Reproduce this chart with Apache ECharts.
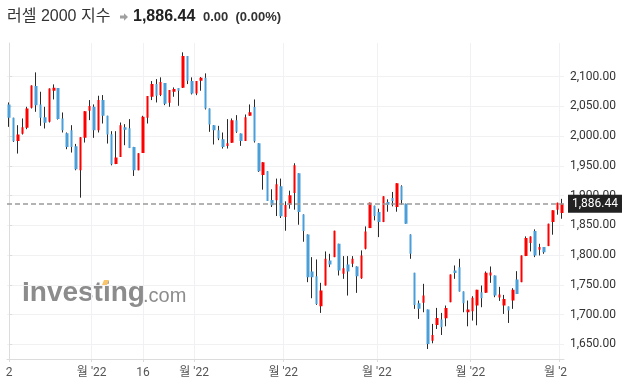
<!DOCTYPE html>
<html>
<head>
<meta charset="utf-8">
<script src="https://cdn.jsdelivr.net/npm/echarts@6/dist/echarts.min.js"></script>
<style>
  html, body { margin: 0; padding: 0; background: #fff; }
  #chart { width: 628px; height: 391px; }
</style>
</head>
<body>
<div id="chart"></div>
<script>
// daily candles, [open, close, low, high]
const candles = [
  [2053.4, 2030.9, 2015.7, 2056.7], [2030.9, 1991.6, 1990.4, 2031.0], [1992.1, 2002.8, 1970.8, 2018.5],
  [2003.9, 2015.2, 2002.8, 2029.8], [2014.0, 2046.6, 2011.8, 2049.4], [2047.8, 2085.4, 2046.6, 2085.4],
  [2084.3, 2052.2, 2041.0, 2107.3], [2053.4, 2030.9, 2017.4, 2074.7], [2032.0, 2022.5, 2012.9, 2049.4],
  [2024.2, 2080.3, 2023.0, 2080.3], [2076.4, 2081.5, 2061.8, 2087.1], [2080.9, 2028.7, 2028.0, 2081.0],
  [2029.8, 2010.1, 2006.2, 2039.9], [2005.0, 1982.0, 1978.1, 2006.2], [2010.1, 1982.0, 1972.5, 2018.5],
  [1983.1, 1944.4, 1942.7, 1987.0], [1942.7, 1998.3, 1896.6, 1998.3], [1997.2, 2042.1, 1989.3, 2042.1],
  [2042.7, 2050.6, 2027.0, 2060.7], [2049.4, 2010.1, 1997.2, 2053.4], [2010.1, 2060.7, 2006.2, 2068.0],
  [2060.7, 2034.3, 2021.3, 2069.1], [2034.3, 2002.8, 1987.6, 2034.3], [2003.4, 1952.8, 1951.0, 2008.4],
  [1953.4, 1964.0, 1953.0, 2008.4], [1965.2, 2018.5, 1965.0, 2023.0], [2015.2, 2010.7, 1984.8, 2020.2],
  [2013.5, 1980.3, 1980.0, 2028.7], [1982.0, 1942.7, 1933.1, 1982.0], [1942.7, 1971.3, 1942.7, 1971.3],
  [1971.9, 2032.6, 1971.9, 2034.3], [2030.9, 2067.4, 2021.3, 2067.4], [2066.3, 2087.6, 2060.7, 2092.7],
  [2087.6, 2068.0, 2056.7, 2096.0], [2069.1, 2091.0, 2067.4, 2098.9], [2089.3, 2054.5, 2052.2, 2089.3],
  [2056.2, 2077.5, 2049.4, 2077.5], [2074.7, 2079.2, 2066.3, 2082.0], [2080.9, 2076.4, 2051.1, 2081.0],
  [2081.5, 2134.8, 2081.0, 2141.0], [2134.8, 2093.3, 2087.6, 2134.8], [2092.7, 2071.9, 2070.2, 2098.9],
  [2071.9, 2092.7, 2069.0, 2092.7], [2093.3, 2098.3, 2076.4, 2099.4], [2098.3, 2046.6, 2044.9, 2105.6],
  [2046.6, 2019.7, 2007.3, 2046.6], [2018.5, 2010.1, 1986.0, 2018.5], [2010.1, 1996.1, 1993.3, 2017.4],
  [1994.9, 1982.0, 1979.2, 2006.2], [1983.7, 1988.2, 1979.2, 2028.7], [1988.8, 2027.0, 1988.8, 2029.8],
  [2027.0, 2007.3, 2005.6, 2035.4], [2004.5, 1992.1, 1983.7, 2004.5], [1992.1, 2032.0, 1992.1, 2036.5],
  [2034.3, 2040.4, 2034.3, 2053.4], [2048.9, 1991.6, 1989.3, 2061.8], [1988.2, 1941.0, 1939.9, 1988.2],
  [1934.8, 1956.2, 1910.1, 1956.2], [1941.0, 1891.0, 1891.0, 1941.0], [1892.7, 1883.7, 1880.9, 1910.7],
  [1892.1, 1919.1, 1865.7, 1928.7], [1915.7, 1865.2, 1862.4, 1928.7], [1864.0, 1884.3, 1841.0, 1890.4],
  [1884.8, 1900.6, 1878.1, 1908.4], [1904.5, 1951.1, 1876.4, 1954.5], [1937.6, 1872.5, 1851.1, 1937.6],
  [1868.5, 1840.4, 1822.5, 1868.5], [1834.8, 1762.9, 1754.5, 1834.8], [1772.5, 1762.9, 1727.5, 1796.6],
  [1764.6, 1718.0, 1716.3, 1792.7], [1714.0, 1740.4, 1702.8, 1753.4], [1748.9, 1793.8, 1748.9, 1806.2],
  [1791.0, 1784.3, 1779.8, 1802.2], [1796.6, 1841.0, 1796.6, 1841.0], [1819.1, 1774.2, 1765.7, 1819.1],
  [1768.5, 1778.1, 1760.1, 1798.3], [1784.3, 1772.5, 1732.0, 1798.3], [1785.4, 1793.8, 1779.8, 1798.3],
  [1780.9, 1764.6, 1736.5, 1781.0], [1761.2, 1799.4, 1760.1, 1807.9], [1810.7, 1839.9, 1809.6, 1848.3],
  [1845.5, 1888.2, 1845.5, 1888.2], [1883.1, 1865.7, 1858.4, 1883.1], [1872.5, 1855.6, 1830.3, 1878.1],
  [1855.6, 1898.9, 1855.6, 1898.9], [1889.3, 1884.8, 1873.0, 1893.8], [1896.1, 1891.0, 1882.0, 1906.2],
  [1880.9, 1920.8, 1873.0, 1920.8], [1915.7, 1892.7, 1884.8, 1917.4], [1886.5, 1852.8, 1852.8, 1886.5],
  [1834.8, 1802.2, 1793.8, 1834.8], [1770.2, 1716.3, 1709.6, 1770.2], [1719.1, 1709.6, 1692.7, 1723.6],
  [1719.7, 1732.0, 1703.9, 1751.7], [1708.4, 1650.6, 1642.1, 1708.4], [1656.2, 1665.7, 1651.7, 1684.3],
  [1682.6, 1694.4, 1675.8, 1711.2], [1691.6, 1678.7, 1665.7, 1702.8], [1693.8, 1711.2, 1680.3, 1715.2],
  [1720.8, 1767.4, 1720.8, 1767.4], [1774.2, 1769.8, 1760.1, 1782.6], [1779.8, 1738.8, 1738.8, 1793.8],
  [1738.8, 1719.1, 1703.9, 1738.8], [1703.9, 1708.4, 1680.3, 1723.6], [1705.6, 1728.1, 1689.9, 1730.9],
  [1715.2, 1741.6, 1682.0, 1741.6], [1737.6, 1727.5, 1712.4, 1748.9], [1736.5, 1770.2, 1736.5, 1772.5],
  [1765.7, 1770.8, 1753.4, 1780.9], [1765.7, 1732.0, 1729.2, 1765.7], [1728.7, 1733.7, 1723.0, 1746.6],
  [1715.2, 1726.4, 1701.1, 1733.1], [1713.5, 1706.7, 1685.9, 1713.5], [1723.6, 1741.6, 1709.6, 1744.4],
  [1759.0, 1734.8, 1734.8, 1773.0], [1754.5, 1799.4, 1754.5, 1799.4], [1798.3, 1828.7, 1798.3, 1831.5],
  [1820.2, 1831.5, 1806.2, 1831.5], [1840.4, 1799.4, 1796.6, 1843.3], [1809.0, 1813.5, 1799.4, 1819.1],
  [1813.5, 1805.0, 1802.2, 1813.5], [1815.2, 1852.8, 1815.2, 1852.8], [1855.6, 1875.3, 1834.3, 1875.3],
  [1876.4, 1888.2, 1868.0, 1888.2], [1870.8, 1886.44, 1861.2, 1894.6]
];
const days = candles.map((c, i) => String(i));

const lastPrice = 1886.44;
const yTicks = [1650, 1700, 1750, 1800, 1850, 1900, 1950, 2000, 2050, 2100];
// x ticks sit on candle index (month ticks fall between two candles)
const xTickPos = [0, 18.5, 30, 41.5, 61.5, 82.5, 103.5, 123.5];
const xTickText = ['2', "월 '22", '16', "월 '22", "월 '22", "월 '22", "월 '22", "월 '2"];

const UP = '#ff0000';
const DOWN = '#4a9fd9';
const WICK = '#2a2a2a';
const GRID = '#f1f1f3';
const AXIS = '#dcdcdc';
const FONT = 'Roboto, "Noto Sans CJK KR", sans-serif';
const TFONT = '"Liberation Sans", "Noto Sans CJK KR", sans-serif';

const chart = echarts.init(document.getElementById('chart'), null, { renderer: 'canvas' });

const option = {
  animation: false,
  grid: { left: 7, right: 64, top: 43, bottom: 32 },
  xAxis: [
    {
      type: 'category',
      data: days,
      boundaryGap: true,
      show: false
    },
    {
      type: 'value',
      position: 'bottom',
      min: -0.5,
      max: days.length - 0.5,
      axisLine: { show: true, lineStyle: { color: AXIS } },
      axisTick: { show: true, length: 3, customValues: xTickPos, lineStyle: { color: AXIS } },
      axisLabel: {
        customValues: xTickPos,
        margin: 8,
        color: '#555',
        fontSize: 12,
        fontFamily: FONT,
        formatter: (v) => {
          const i = xTickPos.indexOf(v);
          // last label is cut by the price scale, nudge it left
          return i === xTickPos.length - 1 ? '{cut|' + xTickText[i] + '}' : xTickText[i];
        },
        rich: {
          cut: { color: '#555', fontSize: 12, fontFamily: FONT, padding: [0, 8, 0, 0] }
        }
      },
      splitLine: { show: true, customValues: xTickPos, lineStyle: { color: GRID } }
    }
  ],
  yAxis: {
    type: 'value',
    position: 'right',
    min: 1625.3,
    max: 2156.7,
    axisLine: { show: true, lineStyle: { color: AXIS } },
    axisTick: { show: true, length: 3, customValues: yTicks, lineStyle: { color: AXIS } },
    axisLabel: {
      customValues: yTicks,
      margin: 6,
      color: '#333',
      fontSize: 12,
      fontFamily: FONT,
      formatter: (v) => v.toLocaleString('en-US', { minimumFractionDigits: 2 })
    },
    splitLine: { show: true, customValues: yTicks, lineStyle: { color: GRID } }
  },
  graphic: [
    {
      type: 'text', x: 7, y: 17, z: 10,
      style: { text: '러셀 2000 지수', fill: '#333', fontSize: 16, fontFamily: TFONT, verticalAlign: 'middle' }
    },
    {
      type: 'polygon', z: 10,
      shape: { points: [[120, 15.5], [124, 15.5], [124, 13.3], [128, 17], [124, 20.7], [124, 18.5], [120, 18.5]] },
      style: { fill: '#a0a0a0' }
    },
    {
      type: 'text', x: 133, y: 17, z: 10,
      style: { text: '1,886.44', fill: '#222', fontSize: 16, fontWeight: 'bold', fontFamily: TFONT, verticalAlign: 'middle' }
    },
    {
      type: 'text', x: 203, y: 17, z: 10,
      style: { text: '0.00  (0.00%)', fill: '#333', fontSize: 13, fontWeight: 'bold', fontFamily: TFONT, verticalAlign: 'middle' }
    },
    // watermark
    {
      type: 'text', x: 22, y: 293, z: 0,
      style: { text: 'Investing', fill: '#8c8c8c', fontSize: 28, fontWeight: 'bold', fontFamily: TFONT, verticalAlign: 'middle' }
    },
    {
      type: 'text', x: 143, y: 296, z: 0,
      style: { text: '.com', fill: '#8c8c8c', fontSize: 20, fontFamily: TFONT, verticalAlign: 'middle' }
    },
    {
      type: 'polygon', z: 1,
      shape: { points: [[104, 280], [109, 280], [107, 285], [102, 285]] },
      style: { fill: '#f8c46c' }
    }
  ],
  series: [
    {
      // wicks
      name: 'wick',
      type: 'candlestick',
      data: candles,
      barWidth: 1,
      silent: true,
      itemStyle: {
        color: WICK, color0: WICK,
        borderColor: WICK, borderColor0: WICK, borderColorDoji: WICK,
        borderWidth: 1
      }
    },
    {
      // bodies
      name: '러셀 2000',
      type: 'candlestick',
      data: candles,
      barWidth: 3,
      silent: true,
      itemStyle: {
        color: UP, color0: DOWN,
        borderColor: UP, borderColor0: DOWN, borderColorDoji: UP,
        borderWidth: 0
      },
      markLine: {
        silent: true,
        symbol: 'none',
        data: [{ yAxis: lastPrice }],
        lineStyle: { color: '#9a9a9a', type: [5, 3], width: 1.5 },
        label: {
          position: 'end',
          distance: 4,
          formatter: '1,886.44',
          backgroundColor: '#222',
          color: '#fff',
          fontSize: 12,
          fontFamily: FONT,
          padding: [3, 4, 3, 4]
        }
      }
    }
  ]
};

chart.setOption(option);
</script>
</body>
</html>
